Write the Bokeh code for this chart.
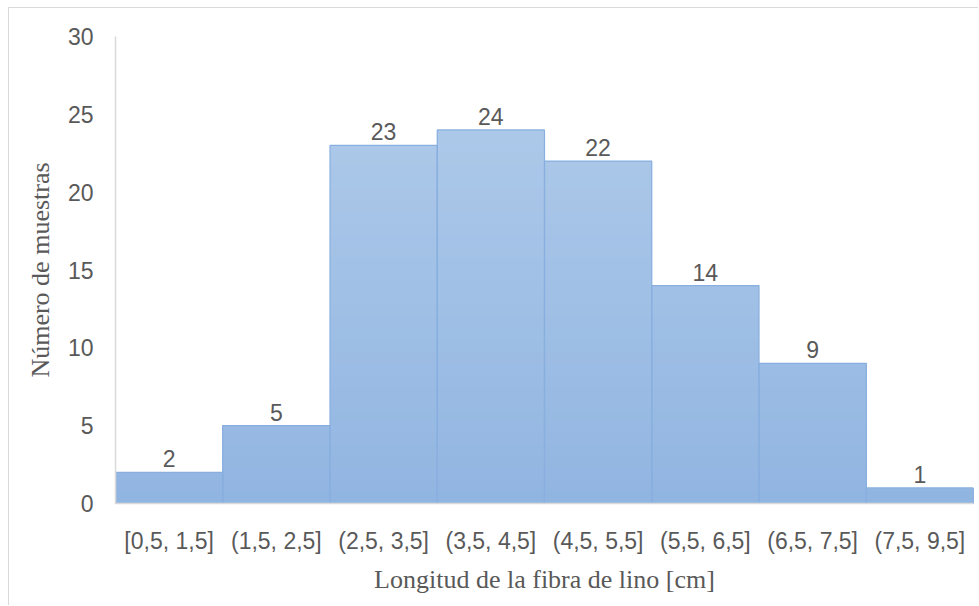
from bokeh.plotting import figure
from bokeh.models import FactorRange, Range1d, FixedTicker, ColumnDataSource, LabelSet
from bokeh.core.properties import value
from bokeh.embed import file_html
from bokeh.resources import INLINE

categories = ["[0,5, 1,5]", "(1,5, 2,5]", "(2,5, 3,5]", "(3,5, 4,5]",
              "(4,5, 5,5]", "(5,5, 6,5]", "(6,5, 7,5]", "(7,5, 9,5]"]
counts = [2, 5, 23, 24, 22, 14, 9, 1]
y_ticks = [0, 5, 10, 15, 20, 25, 30]
x_title = "Longitud de la fibra de lino [cm]"
y_title = "Número de muestras"

Y_MAX = 30
TEXT = "#595959"
AXIS = "#d9d9d9"
BOTTOM_RGB = (0x91, 0xb5, 0xe1)
TOP_RGB = (0xb3, 0xcd, 0xeb)

p = figure(width=970, height=598,
           x_range=FactorRange(*categories, range_padding=0),
           y_range=Range1d(0, Y_MAX),
           output_backend="svg", toolbar_location=None,
           min_border_left=106, min_border_right=6,
           min_border_top=28, min_border_bottom=103)
p.background_fill_color = "white"
p.border_fill_color = "white"
p.outline_line_color = None
p.xgrid.grid_line_color = None
p.ygrid.grid_line_color = None

# vertical gradient fill: overlapping bands drawn from tallest to shortest
steps = 40
for k in range(steps, 0, -1):
    lim = Y_MAX * k / steps
    t = (k - 0.5) / steps
    col = "#%02x%02x%02x" % tuple(int(round(b + (a - b) * t)) for a, b in zip(TOP_RGB, BOTTOM_RGB))
    tops = [min(c, lim) for c in counts]
    p.vbar(x=categories, top=tops, bottom=0, width=1.0,
           fill_color=col, line_color=None)

src = ColumnDataSource(dict(x=categories, top=counts, lab=[str(c) for c in counts]))
p.vbar(x="x", top="top", bottom=0, width=1.0, source=src,
       fill_color=None, line_color="#88afdf", line_width=1.2)

labels = LabelSet(x="x", y="top", text="lab", source=src,
                  text_align="center", text_baseline="bottom", y_offset=5,
                  text_font=value("Liberation Sans"), text_font_size="23px",
                  text_color=TEXT)
p.add_layout(labels)

p.yaxis.ticker = FixedTicker(ticks=y_ticks)
for ax in (p.xaxis, p.yaxis):
    ax.axis_line_color = AXIS
    ax.axis_line_width = 1.5
    ax.major_tick_line_color = None
    ax.minor_tick_line_color = None
    ax.major_label_text_font = "Liberation Sans"
    ax.major_label_text_font_size = "23px"
    ax.major_label_text_color = TEXT
    ax.axis_label_text_font = "Liberation Serif"
    ax.axis_label_text_font_size = "26px"
    ax.axis_label_text_font_style = "normal"
    ax.axis_label_text_color = TEXT

p.xaxis.axis_label = x_title
p.yaxis.axis_label = y_title
p.yaxis.major_label_standoff = 16
p.xaxis.major_label_standoff = 18
p.xaxis.axis_label_standoff = 8
p.yaxis.axis_label_standoff = 10

# outer chart border: only its top and left edges fall inside the window
p.styles = {"margin-left": "8px", "margin-top": "7px",
            "border-top": "1px solid #d9d9d9", "border-left": "1px solid #d9d9d9"}

open("out.html", "w").write(file_html(p, INLINE))
